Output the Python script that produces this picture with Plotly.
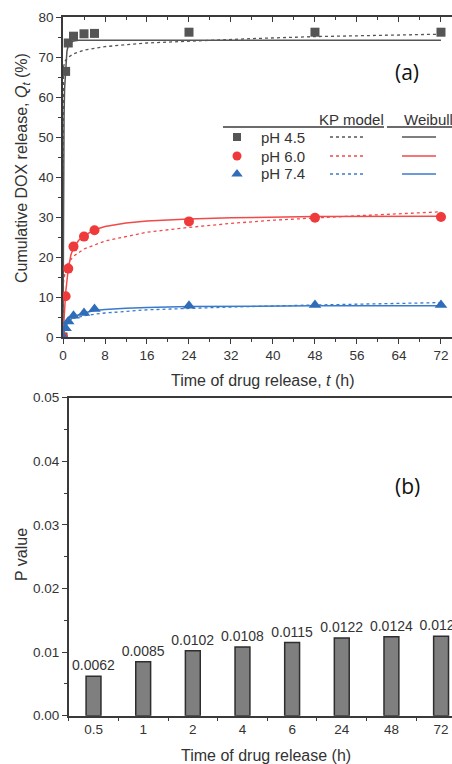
import plotly.graph_objects as go

W, H = 452, 764

# ---------------- data: panel (a) ----------------
t_obs = [0, 0.5, 1, 2, 4, 6, 24, 48, 72]
q_ph45 = [0, 66.4, 73.5, 75.2, 75.8, 75.9, 76.2, 76.2, 76.2]
q_ph60 = [0, 10.2, 17.1, 22.6, 25.1, 26.7, 28.9, 29.8, 30.0]
q_ph74 = [0, 2.2, 3.9, 5.3, 6.0, 7.0, 7.8, 8.0, 8.0]

# Weibull fit curves
wb45_t = [0, 0.05, 0.1, 0.2, 0.3, 0.5, 0.75, 1, 1.5, 2, 3, 6, 24, 48, 72]
wb45_q = [0, 30, 41, 55, 62, 68, 71.5, 72.8, 73.7, 74.0, 74.2, 74.2, 74.2, 74.2, 74.2]
wb60_t = [0, 0.25, 0.5, 1, 1.5, 2, 3, 4, 6, 8, 12, 16, 24, 32, 48, 72]
wb60_q = [0, 6, 11, 17, 20.5, 22.3, 24.2, 25.3, 26.8, 27.6, 28.5, 29.0, 29.5, 29.8, 30.1, 30.2]
wb74_t = [0, 0.25, 0.5, 1, 2, 3, 4, 6, 8, 12, 16, 24, 32, 48, 72]
wb74_q = [0, 1.5, 2.6, 3.8, 5.0, 5.6, 6.0, 6.6, 6.9, 7.2, 7.4, 7.6, 7.7, 7.8, 7.8]

# KP model fit curves
kp45_t = [0, 0.02, 0.05, 0.1, 0.3, 0.5, 1, 2, 4, 8, 16, 24, 36, 48, 60, 72]
kp45_q = [0, 40, 62, 67.5, 68.6, 69.2, 69.9, 70.8, 71.7, 72.6, 73.5, 74.0, 74.6, 75.1, 75.4, 75.7]
kp60_t = [0, 0.02, 0.1, 0.5, 1, 2, 4, 8, 16, 24, 32, 40, 48, 56, 64, 72]
kp60_q = [0, 11.5, 13.8, 17.0, 18.5, 20.2, 22.0, 24.0, 26.2, 27.4, 28.4, 29.2, 29.8, 30.3, 30.8, 31.3]
kp74_t = [0, 0.02, 0.1, 0.5, 1, 2, 4, 6, 8, 16, 24, 32, 48, 64, 72]
kp74_q = [0, 2.1, 2.8, 3.8, 4.2, 4.65, 5.3, 5.7, 6.0, 6.8, 7.2, 7.5, 8.0, 8.4, 8.6]

series_names = ["pH 4.5", "pH 6.0", "pH 7.4"]

# ---------------- data: panel (b) ----------------
bar_categories = ["0.5", "1", "2", "4", "6", "24", "48", "72"]
p_values = [0.0062, 0.0085, 0.0102, 0.0108, 0.0115, 0.0122, 0.0124, 0.0125]

# ---------------- styles ----------------
FONT = "Liberation Sans, Arial, sans-serif"
AX = "#3a3a3a"
TXT = "#333333"
mk_col = ["#555555", "#ee3a3a", "#2f6db8"]
ln_col = ["#555555", "#f04a4a", "#3a7acb"]
symbols = ["square", "circle", "triangle-up"]
msize = [9, 10, 11]


def px(x):
    return x / W


def py(y):
    return 1 - y / H


fig = go.Figure()

# fit curves
for tt, qq, c in [(kp45_t, kp45_q, ln_col[0]), (kp60_t, kp60_q, ln_col[1]), (kp74_t, kp74_q, ln_col[2])]:
    fig.add_trace(go.Scatter(x=tt, y=qq, mode="lines", line=dict(color=c, width=1.3, dash="dot"),
                             showlegend=False, hoverinfo="skip", xaxis="x", yaxis="y"))
for tt, qq, c in [(wb45_t, wb45_q, ln_col[0]), (wb60_t, wb60_q, ln_col[1]), (wb74_t, wb74_q, ln_col[2])]:
    fig.add_trace(go.Scatter(x=tt, y=qq, mode="lines", line=dict(color=c, width=1.5),
                             showlegend=False, hoverinfo="skip", xaxis="x", yaxis="y"))
# observed points
for qq, c, s, ms, nm in zip([q_ph45, q_ph60, q_ph74], mk_col, symbols, msize, series_names):
    fig.add_trace(go.Scatter(x=t_obs, y=qq, mode="markers", name=nm,
                             marker=dict(color=c, symbol=s, size=ms, line=dict(width=0)),
                             showlegend=False, xaxis="x", yaxis="y"))

# invisible trace for mirrored top axis
fig.add_trace(go.Scatter(x=[0], y=[0], mode="markers", marker=dict(opacity=0), showlegend=False,
                         hoverinfo="skip", xaxis="x2", yaxis="y"))

# bars
fig.add_trace(go.Bar(x=bar_categories, y=p_values, width=0.3,
                     marker=dict(color="#7f7f7f", line=dict(color="#2e2e2e", width=1.5)),
                     texttemplate="%{y:.4f}", textposition="outside", cliponaxis=True,
                     constraintext="none",
                     textfont=dict(family=FONT, size=14, color=TXT),
                     showlegend=False, xaxis="x3", yaxis="y3"))

# legend helper (pixel-space axis)
leg_rows_y = [137, 156, 174]
for c, s, ms, yy in zip(mk_col, symbols, msize, leg_rows_y):
    fig.add_trace(go.Scatter(x=[237], y=[yy], mode="markers",
                             marker=dict(color=c, symbol=s, size=ms - 1, line=dict(width=0)),
                             showlegend=False, hoverinfo="skip", xaxis="x4", yaxis="y4"))

shapes = []
annotations = []
for c, yy, nm in zip(ln_col, leg_rows_y, series_names):
    shapes.append(dict(type="line", xref="paper", yref="paper", x0=px(330), x1=px(366),
                       y0=py(yy), y1=py(yy), line=dict(color=c, width=1.3, dash="dot")))
    shapes.append(dict(type="line", xref="paper", yref="paper", x0=px(402), x1=px(436),
                       y0=py(yy), y1=py(yy), line=dict(color=c, width=1.5)))
    annotations.append(dict(text=nm, x=px(259), y=py(yy), xref="paper", yref="paper",
                            xanchor="left", yanchor="middle", showarrow=False,
                            font=dict(family=FONT, size=15, color=TXT)))
# header underline
shapes.append(dict(type="line", xref="paper", yref="paper", x0=px(223), x1=px(384),
                   y0=py(127), y1=py(127), line=dict(color=AX, width=1.5)))
shapes.append(dict(type="line", xref="paper", yref="paper", x0=px(387), x1=px(452),
                   y0=py(127), y1=py(127), line=dict(color=AX, width=1.5)))
annotations.append(dict(text="KP model", x=px(351), y=py(119), xref="paper", yref="paper",
                        xanchor="center", yanchor="middle", showarrow=False,
                        font=dict(family=FONT, size=15, color=TXT)))
annotations.append(dict(text="Weibull", x=px(402), y=py(119), xref="paper", yref="paper",
                        xanchor="left", yanchor="middle", showarrow=False,
                        font=dict(family=FONT, size=15, color=TXT)))

# panel labels
annotations.append(dict(text="(a)", x=px(407), y=py(72), xref="paper", yref="paper",
                        xanchor="center", yanchor="middle", showarrow=False,
                        font=dict(family="Open Sans, sans-serif", size=21, color="#111111")))
annotations.append(dict(text="(b)", x=px(407), y=py(486), xref="paper", yref="paper",
                        xanchor="center", yanchor="middle", showarrow=False,
                        font=dict(family="Open Sans, sans-serif", size=21, color="#111111")))

# axis titles
annotations.append(dict(text="Cumulative DOX release, <i>Q</i><sub><i>t</i></sub> (%)",
                        x=px(22), y=py(168), xref="paper", yref="paper", textangle=-90,
                        xanchor="center", yanchor="middle", showarrow=False,
                        font=dict(family=FONT, size=16, color=TXT)))
annotations.append(dict(text="Time of drug release, <i>t</i> (h)", x=px(262), y=py(380),
                        xref="paper", yref="paper", xanchor="center", yanchor="middle",
                        showarrow=False, font=dict(family=FONT, size=16, color=TXT)))
annotations.append(dict(text="P value", x=px(21), y=py(555), xref="paper", yref="paper",
                        textangle=-90, xanchor="center", yanchor="middle", showarrow=False,
                        font=dict(family=FONT, size=16, color=TXT)))
annotations.append(dict(text="Time of drug release (h)", x=px(266), y=py(755), xref="paper",
                        yref="paper", xanchor="center", yanchor="middle", showarrow=False,
                        font=dict(family=FONT, size=16, color=TXT)))

tickfont = dict(family=FONT, size=13.5, color=TXT)

fig.update_layout(
    width=W, height=H,
    margin=dict(l=0, r=0, t=0, b=0),
    paper_bgcolor="white", plot_bgcolor="rgba(0,0,0,0)",
    showlegend=False,
    shapes=shapes, annotations=annotations,
    xaxis=dict(domain=[px(63), 1], anchor="y", range=[0, 74.1], tickmode="linear", tick0=0, dtick=8,
               ticks="outside", ticklen=5, tickwidth=1.3, tickcolor=AX,
               minor=dict(dtick=4, ticks="outside", ticklen=3, tickcolor=AX, tickwidth=1.2),
               showline=True, linecolor=AX, linewidth=1.5, showgrid=False, zeroline=False,
               tickfont=tickfont, automargin=False),
    xaxis2=dict(overlaying="x", anchor="y", side="top", range=[0, 74.1], tickmode="linear", tick0=0,
                dtick=8, ticks="inside", ticklen=5, tickwidth=1.3, tickcolor=AX,
                minor=dict(dtick=4, ticks="inside", ticklen=3, tickcolor=AX, tickwidth=1.2),
                showticklabels=False, showline=True, linecolor=AX, linewidth=1.5,
                showgrid=False, zeroline=False, automargin=False),
    yaxis=dict(domain=[py(337), py(17)], anchor="x", range=[0, 80], tickmode="linear", tick0=0, dtick=10,
               ticks="outside", ticklen=5, tickwidth=1.3, tickcolor=AX,
               minor=dict(dtick=5, ticks="outside", ticklen=3, tickcolor=AX, tickwidth=1.2),
               showline=True, linecolor=AX, linewidth=1.5, showgrid=False, zeroline=False,
               tickfont=tickfont, automargin=False),
    xaxis3=dict(domain=[px(68.7), 1], anchor="y3", type="category", range=[-0.5, 7.22],
                ticks="outside", tickson="boundaries", ticklen=4, tickwidth=1.3, tickcolor=AX,
                showline=True, mirror=True, linecolor=AX, linewidth=1.5, showgrid=False,
                tickfont=tickfont, automargin=False),
    yaxis3=dict(domain=[py(715.7), py(397.7)], anchor="x3", range=[0, 0.05], tickmode="linear",
                tick0=0, dtick=0.01, tickformat=".2f",
                ticks="outside", ticklen=5, tickwidth=1.3, tickcolor=AX,
                minor=dict(dtick=0.005, ticks="outside", ticklen=3, tickcolor=AX, tickwidth=1.2),
                showline=True, linecolor=AX, linewidth=1.5, showgrid=False, zeroline=False,
                tickfont=tickfont, automargin=False),
    xaxis4=dict(domain=[0, 1], anchor="y4", range=[0, W], visible=False, fixedrange=True),
    yaxis4=dict(domain=[0, 1], anchor="x4", range=[H, 0], visible=False, fixedrange=True),
)

fig.write_html("out.html")
